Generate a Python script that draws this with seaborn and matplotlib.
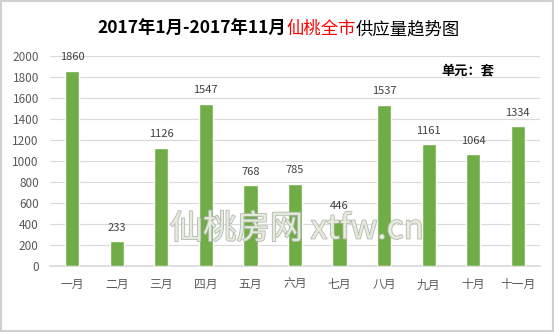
import matplotlib
matplotlib.use("Agg")
import matplotlib.pyplot as plt
import seaborn as sns
import pandas as pd
import matplotlib.patheffects as pe

months = ["一月", "二月", "三月", "四月", "五月", "六月", "七月", "八月", "九月", "十月", "十一月"]
supply = [1860, 233, 1126, 1547, 768, 785, 446, 1537, 1161, 1064, 1334]
yticks = list(range(0, 2001, 200))

sns.set_theme(style="white")
plt.rcParams['font.family'] = ['Noto Sans CJK SC', 'DejaVu Sans']

df = pd.DataFrame({"month": months, "supply": supply})

fig = plt.figure(figsize=(5.55, 3.32), dpi=100)
ax = fig.add_axes([0.09, 0.199, 0.883, 0.632])
sns.barplot(data=df, x="month", y="supply", color="#70AD47", saturation=1, width=0.32, ax=ax, zorder=3)

ax.set_ylim(0, 2000)
ax.set_xlim(-0.5, len(months) - 0.5)
ax.set_yticks(yticks)
ax.set_yticklabels([str(v) for v in yticks], fontsize=8.5, color="#595959")
ax.tick_params(axis='x', labelsize=8.5, colors="#595959", length=0, pad=9)
ax.tick_params(axis='y', length=0, pad=8)
ax.set_xlabel("")
ax.set_ylabel("")
ax.grid(axis='y', color="#D9D9D9", linewidth=0.8, zorder=0)
for s in ["top", "right", "left"]:
    ax.spines[s].set_visible(False)
ax.spines["bottom"].set_color("#D9D9D9")

for i, v in enumerate(supply):
    ax.text(i, v + 80, str(v), ha="center", va="bottom", fontsize=8, color="#404040", zorder=6)

# title with red segment
ty = 0.912
t1 = fig.text(0.0, ty, "2017年1月-2017年11月", fontsize=12.5, fontweight="bold", color="black", va="center")
t2 = fig.text(0.0, ty, "仙桃全市", fontsize=12.5, fontweight="normal", color="#FF0000", va="center")
t3 = fig.text(0.0, ty, "供应量趋势图", fontsize=12.5, fontweight="normal", color="black", va="center")
fig.canvas.draw()
r = fig.canvas.get_renderer()
w1 = t1.get_window_extent(r).width
w2 = t2.get_window_extent(r).width
w3 = t3.get_window_extent(r).width
W = fig.bbox.width
total = w1 + w2 + w3
x0 = 279 - total / 2
t1.set_x(x0 / W)
t2.set_x((x0 + w1) / W)
t3.set_x((x0 + w1 + w2) / W)

fig.text(0.795, 0.787, "单元：套", fontsize=9.5, fontweight="bold", color="black", va="center")

# watermark (below data labels)
ax.text(0.535, 0.31, "仙桃房网 xtfw.cn", transform=fig.transFigure, fontsize=24, color="#E6F0DC",
        alpha=0.9, ha="center", va="center", zorder=5,
        path_effects=[pe.withStroke(linewidth=1.2, foreground="#B0B0B0")])

# border
fig.patches.append(plt.Rectangle((0.002, 0.003), 0.995, 0.994, transform=fig.transFigure,
                                 fill=False, edgecolor="#D0D0D0", linewidth=1.5))

fig.savefig("out.png", dpi=100)
